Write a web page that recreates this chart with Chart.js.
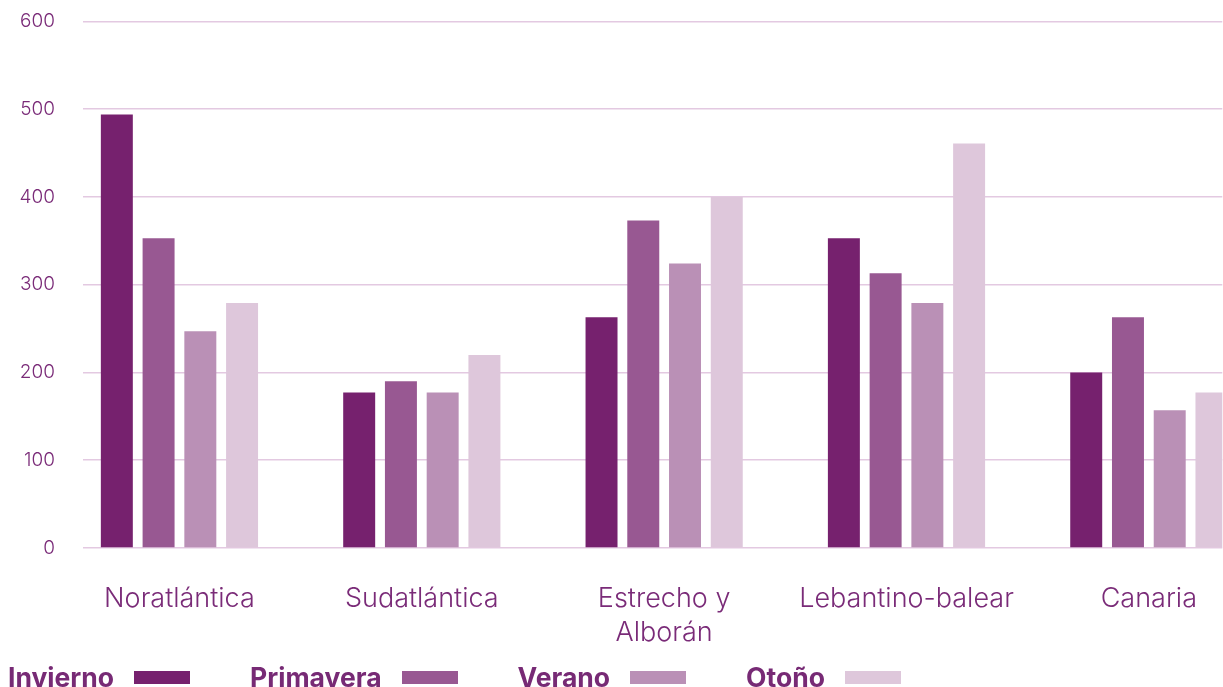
<!DOCTYPE html>
<html>
<head>
<meta charset="utf-8">
<script src="https://cdn.jsdelivr.net/npm/chart.js@4"></script>
<style>
    html, body { margin: 0; padding: 0; background: #fff; overflow: hidden; }
    #wrap { position: relative; width: 1223px; height: 687px; overflow: hidden; }
    #chart { position: absolute; left: 0; top: -18px; }
    #legend {
        position: absolute; left: 8px; top: 661px;
        display: flex; align-items: center;
        font-family: Inter, "Open Sans", sans-serif; font-weight: 700; font-size: 26.5px; color: #772a75;
    }
    .item { display: flex; align-items: center; margin-right: 60px; }
    .box { width: 56px; height: 13px; margin-left: 20px; }
</style>
</head>
<body>
<div id="wrap">
    <canvas id="chart" width="1223" height="705"></canvas>
    <div id="legend"></div>
</div>
<script>
// Regiones (eje X)
const categories = ['Noratlántica', 'Sudatlántica', ['Estrecho y', 'Alborán'], 'Lebantino-balear', 'Canaria'];
const seasons = ['Invierno', 'Primavera', 'Verano', 'Otoño'];

// Valores por estación
const invierno  = [494, 177, 263, 353, 200];
const primavera = [353, 190, 373, 313, 263];
const verano    = [247, 177, 324, 279, 157];
const otono     = [279, 220, 400, 461, 177];

const yTicks = [0, 100, 200, 300, 400, 500, 600];

const colors = ['#76216e', '#985892', '#ba90b6', '#dec7db'];
const textColor = '#7a2b78';

const series = [invierno, primavera, verano, otono];

const ctx = document.getElementById('chart');
new Chart(ctx, {
    type: 'bar',
    data: {
        datasets: series.map((vals, s) => ({
            label: seasons[s],
            data: vals.map((v, i) => ({ x: i, y: v })),
            backgroundColor: colors[s],
            borderWidth: 0,
            categoryPercentage: 0.689,
            barPercentage: 0.766
        }))
    },
    options: {
        responsive: false,
        animation: false,
        layout: { padding: { top: 21, right: 0, bottom: 11, left: 0 } },
        plugins: { legend: { display: false }, tooltip: { enabled: false } },
        scales: {
            x: {
                type: 'linear',
                offset: false,
                min: -0.398,
                max: 4.303,
                grid: { display: false },
                border: { display: false },
                afterBuildTicks: scale => { scale.ticks = categories.map((c, i) => ({ value: i })); },
                ticks: {
                    autoSkip: false,
                    maxRotation: 0,
                    padding: 26,
                    color: textColor,
                    font: { family: 'Inter, "Open Sans", sans-serif', size: 27, weight: 300, lineHeight: 1.26 },
                    callback: value => categories[value]
                }
            },
            y: {
                min: 0,
                max: 600,
                afterBuildTicks: scale => { scale.ticks = yTicks.map(v => ({ value: v })); },
                afterFit: scale => { scale.width = 83; },
                grid: { color: '#e3c9e1', lineWidth: 1.5, drawTicks: false },
                border: { display: false },
                ticks: {
                    padding: 28,
                    color: textColor,
                    font: { family: 'Inter, "Open Sans", sans-serif', size: 19, weight: 300 }
                }
            }
        }
    }
});

// Leyenda: texto seguido del recuadro de color
const legend = document.getElementById('legend');
seasons.forEach((name, s) => {
    const item = document.createElement('div');
    item.className = 'item';
    item.innerHTML = '<span>' + name + '</span><span class="box" style="background:' + colors[s] + '"></span>';
    legend.appendChild(item);
});
</script>
</body>
</html>
